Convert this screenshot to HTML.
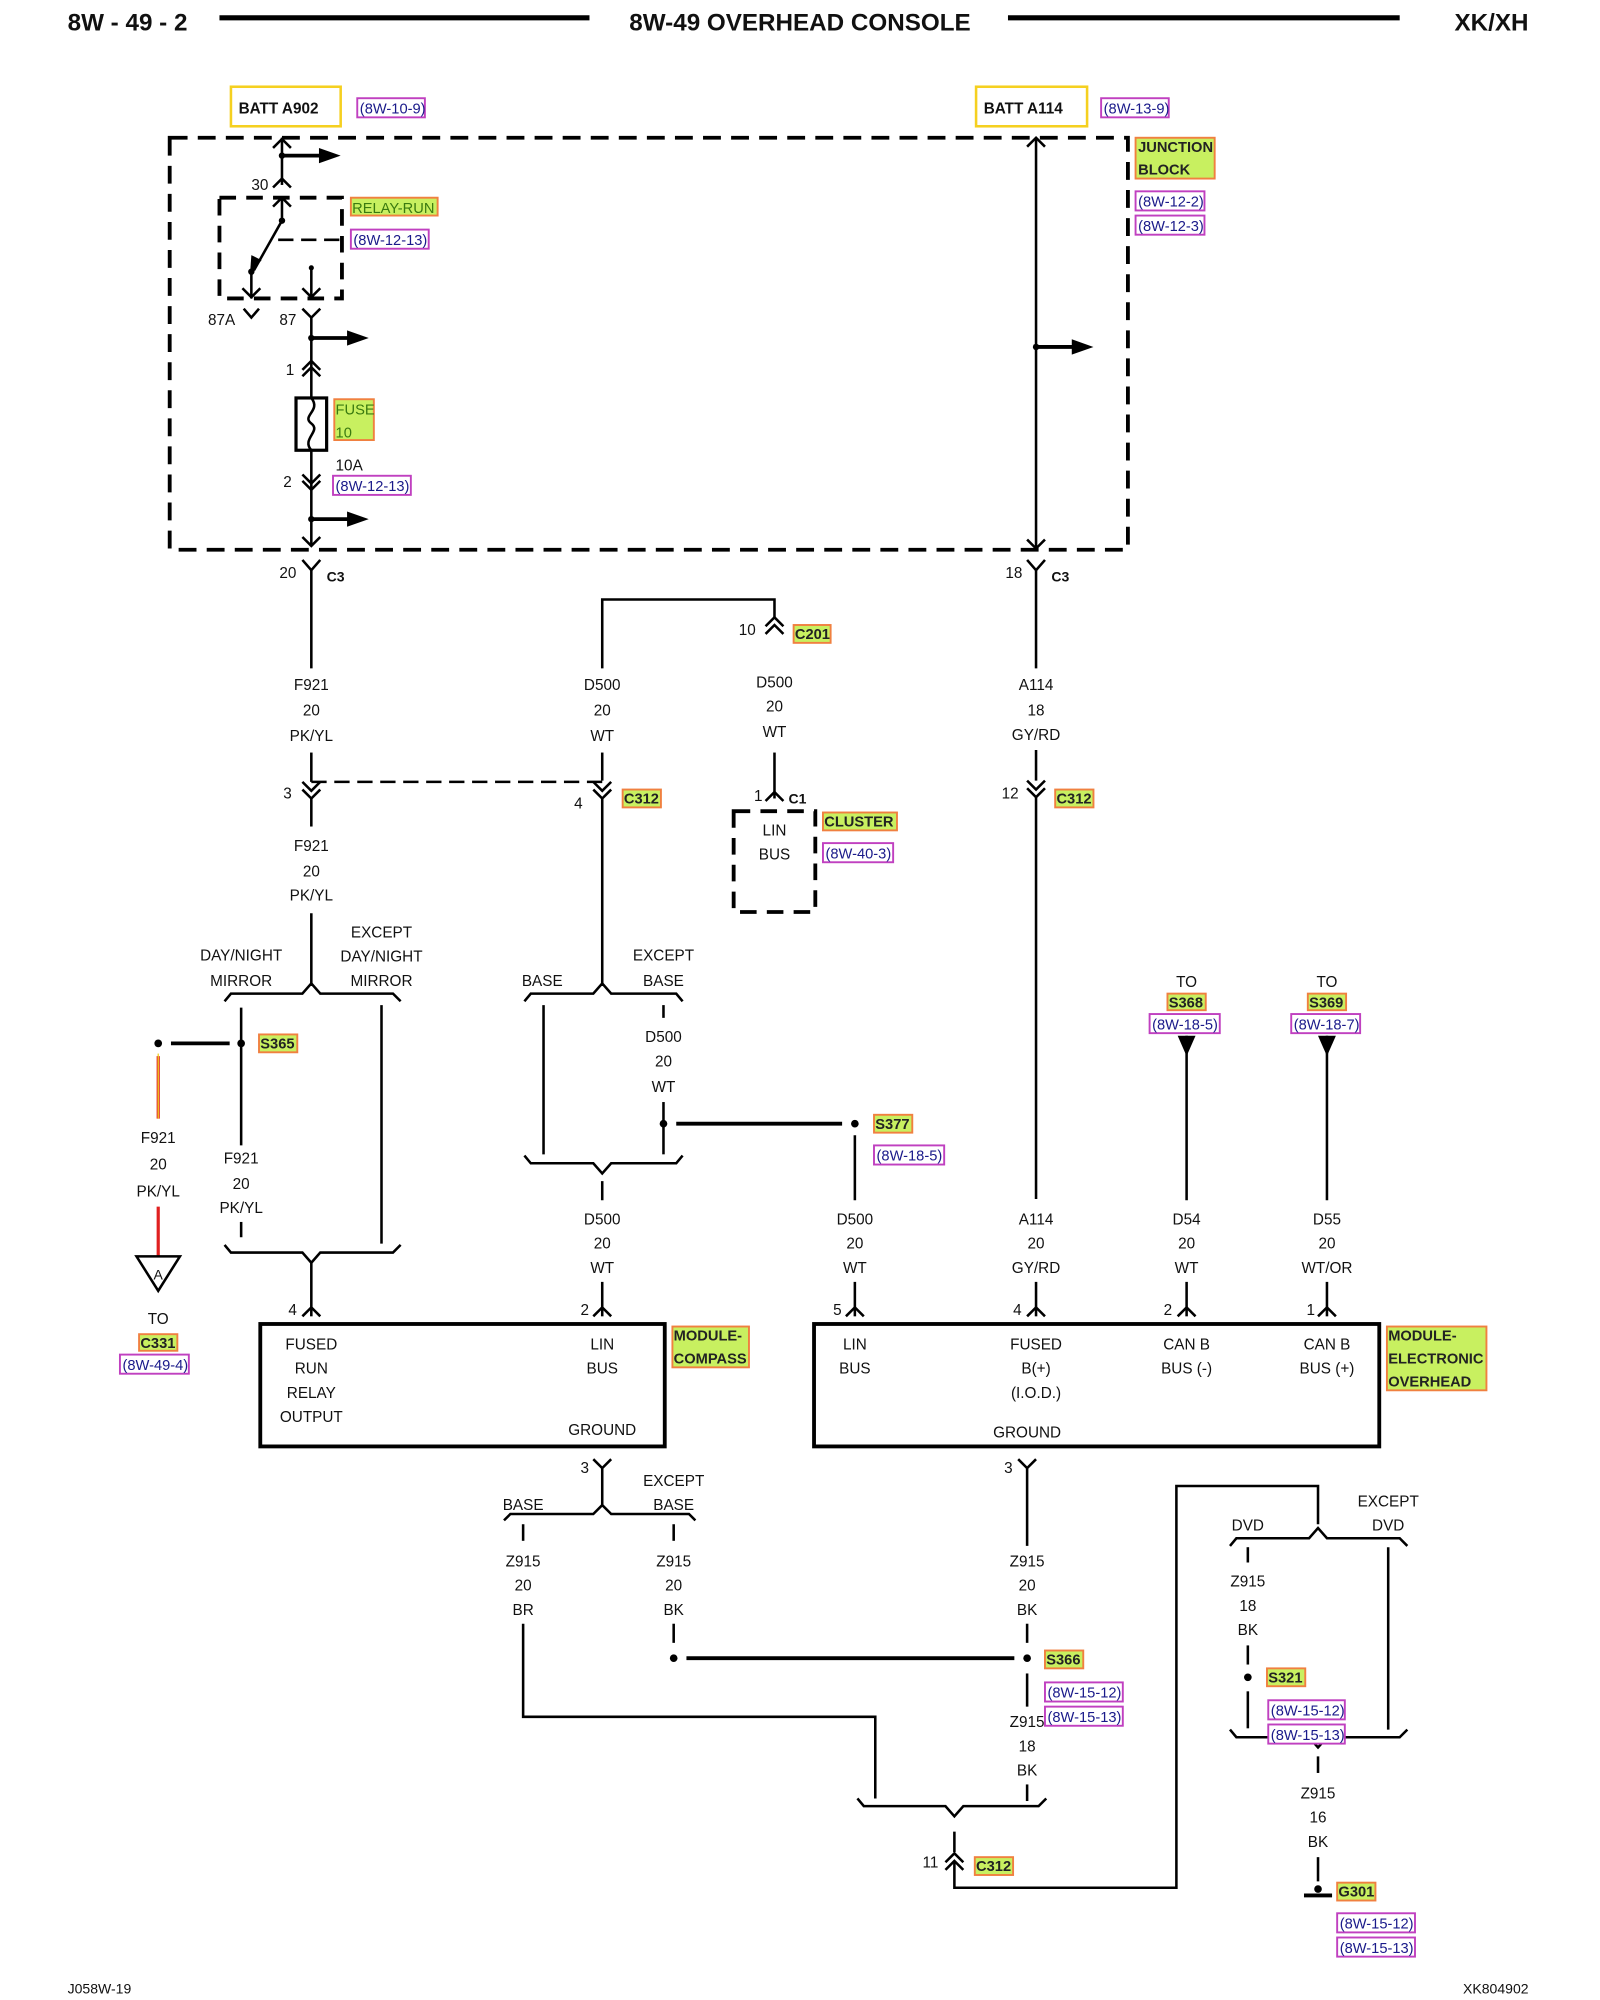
<!DOCTYPE html>
<html><head><meta charset="utf-8"><style>
html,body{margin:0;padding:0;background:#fff}
svg{display:block}
text{font-family:"Liberation Sans",sans-serif;font-size:12px;fill:#111}
.c{text-anchor:middle}
.b{font-weight:bold}
.h{font-size:19px;font-weight:bold}
.r{fill:#1a1a8a;font-size:11.5px}
.l{font-size:11.5px;font-weight:bold;fill:#222}
.w{stroke:#000;stroke-width:2;fill:none}
.k{stroke:#000;stroke-width:3;fill:none}
.rr{fill:#fff;stroke:#c040c0;stroke-width:1.5}
.lr{fill:#c8f060;stroke:#f08040;stroke-width:1.5}
</style></head><body>
<svg width="1600" height="2000" viewBox="0 0 1254 1568" preserveAspectRatio="none" xmlns="http://www.w3.org/2000/svg">
<!-- header -->
<text x="53" y="24" class="h">8W - 49 - 2</text>
<line x1="172" y1="14" x2="462" y2="14" stroke="#000" stroke-width="4"/>
<text x="627" y="24" class="h c">8W-49 OVERHEAD CONSOLE</text>
<line x1="790" y1="14" x2="1097" y2="14" stroke="#000" stroke-width="4"/>
<text x="1198" y="24" class="h" text-anchor="end">XK/XH</text>

<!-- batt boxes -->
<rect x="181" y="68" width="86" height="31" fill="#fff" stroke="#f5d020" stroke-width="2"/>
<text x="187" y="89" class="b">BATT A902</text>
<rect x="280" y="77" width="53" height="15" class="rr"/><text x="282" y="89" class="r">(8W-10-9)</text>
<rect x="765" y="68" width="87" height="31" fill="#fff" stroke="#f5d020" stroke-width="2"/>
<text x="771" y="89" class="b">BATT A114</text>
<rect x="863" y="77" width="53" height="15" class="rr"/><text x="865" y="89" class="r">(8W-13-9)</text>

<!-- junction block dashed -->
<rect x="133" y="108" width="751" height="323" fill="none" stroke="#000" stroke-width="3" stroke-dasharray="14 8"/>
<rect x="890" y="108" width="62" height="32" class="lr"/>
<text x="892" y="119" class="l">JUNCTION</text><text x="892" y="137" class="l">BLOCK</text>
<rect x="890" y="150" width="54" height="15" class="rr"/><text x="892" y="162" class="r">(8W-12-2)</text>
<rect x="890" y="169" width="54" height="15" class="rr"/><text x="892" y="181" class="r">(8W-12-3)</text>

<!-- left relay circuit -->
<line x1="221" y1="108" x2="221" y2="145" class="w"/>
<path d="M214,116 L221,109 L228,116" class="w"/>
<circle cx="221" cy="122" r="2.5"/>
<line x1="221" y1="122" x2="252" y2="122" class="k"/>
<path d="M250,116 L267,122 L250,128 Z"/>
<path d="M214,147 L221,140 L228,147" class="w"/>
<text x="197" y="149">30</text>
<rect x="172" y="155" width="96" height="79" fill="none" stroke="#000" stroke-width="3" stroke-dasharray="13 8"/>
<line x1="221" y1="155" x2="221" y2="173" class="w"/>
<path d="M214,162 L221,155 L228,162" class="w"/>
<circle cx="221" cy="173" r="2.5"/>
<line x1="221" y1="173" x2="199" y2="212" class="w"/>
<path d="M196,214 L197,200 L205,204 Z"/>
<circle cx="197" cy="213" r="2.5"/>
<line x1="197" y1="213" x2="197" y2="234" class="w"/>
<path d="M190,226 L197,233 L204,226" class="w"/>
<line x1="218" y1="188" x2="268" y2="188" stroke="#000" stroke-width="2" stroke-dasharray="12 6"/>
<circle cx="244" cy="210" r="2"/>
<line x1="244" y1="210" x2="244" y2="234" class="w"/>
<path d="M237,226 L244,233 L251,226" class="w"/>
<path d="M191,242 L197,249 L203,242" class="w"/>
<text x="163" y="255">87A</text>
<path d="M237,242 L244,249 L251,242" class="w"/>
<text x="219" y="255">87</text>
<line x1="244" y1="249" x2="244" y2="428" class="w"/>
<circle cx="244" cy="265" r="2.5"/>
<line x1="244" y1="265" x2="274" y2="265" class="k"/>
<path d="M272,259 L289,265 L272,271 Z"/>
<path d="M237,290 L244,283 L251,290 M237,295 L244,288 L251,295" class="w"/>
<text x="224" y="294">1</text>
<rect x="232" y="312" width="24" height="41" fill="#fff" stroke="#000" stroke-width="2.5"/>
<path d="M244,312 C252,322 236,326 244,332 C252,338 236,344 244,353" class="w"/>
<rect x="262" y="313" width="31" height="32" class="lr"/>
<text x="263" y="325" style="font-size:11.5px;fill:#3a7a10">FUSE</text><text x="263" y="343" style="font-size:11.5px;fill:#3a7a10">10</text>
<text x="263" y="369">10A</text>
<path d="M237,372 L244,379 L251,372 M237,377 L244,384 L251,377" class="w"/>
<text x="222" y="382">2</text>
<rect x="261" y="373" width="61" height="15" class="rr"/><text x="263" y="385" class="r">(8W-12-13)</text>
<circle cx="244" cy="407" r="2.5"/>
<line x1="244" y1="407" x2="274" y2="407" class="k"/>
<path d="M272,401 L289,407 L272,413 Z"/>
<path d="M237,421 L244,428 L251,421" class="w"/>
<rect x="275" y="155" width="68" height="14" class="lr"/><text x="276" y="167" style="font-size:11.5px;fill:#3a7a10">RELAY-RUN</text>
<rect x="275" y="180" width="61" height="15" class="rr"/><text x="277" y="192" class="r">(8W-12-13)</text>

<!-- right A114 -->
<line x1="812" y1="108" x2="812" y2="430" class="w"/>
<path d="M805,115 L812,108 L819,115 M805,423 L812,430 L819,423" class="w"/>
<circle cx="812" cy="272" r="2.5"/>
<line x1="812" y1="272" x2="842" y2="272" class="k"/>
<path d="M840,266 L857,272 L840,278 Z"/>

<!-- C3 pins -->
<path d="M237,439 L244,447 L251,439" class="w"/><line x1="244" y1="447" x2="244" y2="524" class="w"/><line x1="244" y1="590" x2="244" y2="613" class="w"/>
<text x="219" y="453">20</text><text x="256" y="456" class="b" style="font-size:11px">C3</text>
<path d="M805,439 L812,447 L819,439" class="w"/><line x1="812" y1="447" x2="812" y2="524" class="w"/><line x1="812" y1="588" x2="812" y2="612" class="w"/>
<text x="788" y="453">18</text><text x="824" y="456" class="b" style="font-size:11px">C3</text>

<text x="244" y="541" class="c">F921</text><text x="244" y="561" class="c">20</text><text x="244" y="581" class="c">PK/YL</text>
<text x="812" y="541" class="c">A114</text><text x="812" y="561" class="c">18</text><text x="812" y="580" class="c">GY/RD</text>

<!-- D500 loop to cluster -->
<path d="M472,524 L472,470 L607,470 L607,484" class="w"/>
<line x1="472" y1="590" x2="472" y2="612" class="w"/>
<path d="M600,491 L607,484 L614,491 M600,497 L607,490 L614,497" class="w"/>
<text x="579" y="498">10</text>
<rect x="622" y="490" width="29" height="14" class="lr"/><text x="623" y="501" class="l">C201</text>
<text x="472" y="541" class="c">D500</text><text x="472" y="561" class="c">20</text><text x="472" y="581" class="c">WT</text>
<text x="607" y="539" class="c">D500</text><text x="607" y="558" class="c">20</text><text x="607" y="578" class="c">WT</text>
<line x1="607" y1="590" x2="607" y2="626" class="w"/>
<path d="M600,628 L607,621 L614,628" class="w"/>
<text x="591" y="628">1</text><text x="618" y="630" class="b" style="font-size:11px">C1</text>
<rect x="575" y="636" width="64" height="79" fill="none" stroke="#000" stroke-width="3" stroke-dasharray="13 8"/>
<text x="607" y="655" class="c">LIN</text><text x="607" y="674" class="c">BUS</text>
<rect x="645" y="637" width="58" height="14" class="lr"/><text x="646" y="648" class="l">CLUSTER</text>
<rect x="645" y="661" width="55" height="15" class="rr"/><text x="647" y="673" class="r">(8W-40-3)</text>

<!-- C312 row -->
<path d="M237,613 L244,620 L251,613 M237,619 L244,626 L251,619" class="w"/><text x="222" y="626">3</text>
<line x1="244" y1="613" x2="472" y2="613" stroke="#000" stroke-width="2" stroke-dasharray="12 6"/>
<path d="M465,613 L472,620 L479,613 M465,619 L472,626 L479,619" class="w"/><text x="450" y="634">4</text>
<rect x="488" y="619" width="30" height="14" class="lr"/><text x="489" y="630" class="l">C312</text>
<path d="M805,612 L812,619 L819,612 M805,618 L812,625 L819,618" class="w"/><text x="785" y="626">12</text>
<rect x="827" y="619" width="30" height="14" class="lr"/><text x="828" y="630" class="l">C312</text>

<line x1="244" y1="626" x2="244" y2="648" class="w"/>
<text x="244" y="667" class="c">F921</text><text x="244" y="687" class="c">20</text><text x="244" y="706" class="c">PK/YL</text>
<line x1="244" y1="716" x2="244" y2="773" class="w"/>
<line x1="472" y1="626" x2="472" y2="773" class="w"/>
<line x1="812" y1="625" x2="812" y2="940" class="w"/>

<!-- left split -->
<text x="189" y="753" class="c">DAY/NIGHT</text><text x="189" y="773" class="c">MIRROR</text>
<text x="299" y="735" class="c">EXCEPT</text><text x="299" y="754" class="c">DAY/NIGHT</text><text x="299" y="773" class="c">MIRROR</text>
<path d="M176,785 L181,779 L237,779 L244,771 L251,779 L308,779 L314,785" class="w"/>
<line x1="189" y1="790" x2="189" y2="898" class="w"/>
<line x1="299" y1="788" x2="299" y2="975" class="w"/>
<circle cx="189" cy="818" r="3"/><circle cx="124" cy="818" r="3"/>
<line x1="134" y1="818" x2="180" y2="818" class="k"/>
<rect x="203" y="811" width="30" height="14" class="lr"/><text x="204" y="822" class="l">S365</text>
<line x1="124" y1="828" x2="124" y2="877" stroke="#e02020" stroke-width="2.5"/>
<line x1="124" y1="826" x2="124" y2="877" stroke="#f0d020" stroke-width="1" />
<text x="124" y="896" class="c">F921</text><text x="124" y="917" class="c">20</text><text x="124" y="938" class="c">PK/YL</text>
<line x1="124" y1="946" x2="124" y2="985" stroke="#e02020" stroke-width="2.5"/>
<path d="M107,985 L141,985 L124,1012 Z" fill="#fff" stroke="#000" stroke-width="2"/>
<text x="124" y="1003" class="c" style="font-size:11px">A</text>
<text x="124" y="1038" class="c">TO</text>
<rect x="109" y="1046" width="30" height="13" class="lr"/><text x="110" y="1057" class="l">C331</text>
<rect x="94" y="1062" width="54" height="15" class="rr"/><text x="96" y="1074" class="r">(8W-49-4)</text>
<text x="189" y="912" class="c">F921</text><text x="189" y="932" class="c">20</text><text x="189" y="951" class="c">PK/YL</text>
<line x1="189" y1="958" x2="189" y2="970" class="w"/>
<path d="M176,976 L181,982 L237,982 L244,990 L251,982 L308,982 L314,976" class="w"/>
<line x1="244" y1="990" x2="244" y2="1032" class="w"/>
<path d="M237,1032 L244,1025 L251,1032" class="w"/><text x="226" y="1031">4</text>

<!-- middle split -->
<text x="425" y="773" class="c">BASE</text>
<text x="520" y="753" class="c">EXCEPT</text><text x="520" y="773" class="c">BASE</text>
<path d="M411,785 L416,779 L465,779 L472,771 L479,779 L530,779 L535,785" class="w"/>
<line x1="426" y1="788" x2="426" y2="905" class="w"/>
<line x1="520" y1="788" x2="520" y2="798" class="w"/>
<text x="520" y="817" class="c">D500</text><text x="520" y="836" class="c">20</text><text x="520" y="856" class="c">WT</text>
<line x1="520" y1="864" x2="520" y2="905" class="w"/>
<circle cx="520" cy="881" r="3"/><circle cx="670" cy="881" r="3"/>
<line x1="530" y1="881" x2="660" y2="881" class="k"/>
<rect x="685" y="874" width="30" height="14" class="lr"/><text x="686" y="885" class="l">S377</text>
<rect x="685" y="898" width="55" height="15" class="rr"/><text x="687" y="910" class="r">(8W-18-5)</text>
<path d="M411,906 L416,912 L465,912 L472,920 L479,912 L530,912 L535,906" class="w"/>
<line x1="472" y1="926" x2="472" y2="941" class="w"/>
<text x="472" y="960" class="c">D500</text><text x="472" y="979" class="c">20</text><text x="472" y="998" class="c">WT</text>
<line x1="472" y1="1005" x2="472" y2="1032" class="w"/>
<path d="M465,1032 L472,1025 L479,1032" class="w"/><text x="455" y="1031">2</text>
<line x1="670" y1="890" x2="670" y2="941" class="w"/>
<text x="670" y="960" class="c">D500</text><text x="670" y="979" class="c">20</text><text x="670" y="998" class="c">WT</text>
<line x1="670" y1="1005" x2="670" y2="1032" class="w"/>
<path d="M663,1032 L670,1025 L677,1032" class="w"/><text x="653" y="1031">5</text>

<text x="812" y="960" class="c">A114</text><text x="812" y="979" class="c">20</text><text x="812" y="998" class="c">GY/RD</text>
<line x1="812" y1="1005" x2="812" y2="1032" class="w"/>
<path d="M805,1032 L812,1025 L819,1032" class="w"/><text x="794" y="1031">4</text>

<text x="930" y="774" class="c">TO</text>
<rect x="915" y="779" width="30" height="13" class="lr"/><text x="916" y="790" class="l">S368</text>
<rect x="901" y="795" width="55" height="15" class="rr"/><text x="903" y="807" class="r">(8W-18-5)</text>
<path d="M923,812 L937,812 L930,828 Z"/>
<line x1="930" y1="812" x2="930" y2="941" class="w"/>
<text x="930" y="960" class="c">D54</text><text x="930" y="979" class="c">20</text><text x="930" y="998" class="c">WT</text>
<line x1="930" y1="1005" x2="930" y2="1032" class="w"/>
<path d="M923,1032 L930,1025 L937,1032" class="w"/><text x="912" y="1031">2</text>

<text x="1040" y="774" class="c">TO</text>
<rect x="1025" y="779" width="30" height="13" class="lr"/><text x="1026" y="790" class="l">S369</text>
<rect x="1012" y="795" width="54" height="15" class="rr"/><text x="1014" y="807" class="r">(8W-18-7)</text>
<path d="M1033,812 L1047,812 L1040,828 Z"/>
<line x1="1040" y1="812" x2="1040" y2="941" class="w"/>
<text x="1040" y="960" class="c">D55</text><text x="1040" y="979" class="c">20</text><text x="1040" y="998" class="c">WT/OR</text>
<line x1="1040" y1="1005" x2="1040" y2="1032" class="w"/>
<path d="M1033,1032 L1040,1025 L1047,1032" class="w"/><text x="1024" y="1031">1</text>

<!-- modules -->
<rect x="204" y="1038" width="317" height="96" fill="none" stroke="#000" stroke-width="3"/>
<text x="244" y="1058" class="c">FUSED</text><text x="244" y="1077" class="c">RUN</text><text x="244" y="1096" class="c">RELAY</text><text x="244" y="1115" class="c">OUTPUT</text>
<text x="472" y="1058" class="c">LIN</text><text x="472" y="1077" class="c">BUS</text>
<text x="472" y="1125" class="c">GROUND</text>
<rect x="527" y="1040" width="60" height="32" class="lr"/>
<text x="528" y="1051" class="l">MODULE-</text><text x="528" y="1069" class="l">COMPASS</text>

<rect x="638" y="1038" width="443" height="96" fill="none" stroke="#000" stroke-width="3"/>
<text x="670" y="1058" class="c">LIN</text><text x="670" y="1077" class="c">BUS</text>
<text x="812" y="1058" class="c">FUSED</text><text x="812" y="1077" class="c">B(+)</text><text x="812" y="1096" class="c">(I.O.D.)</text>
<text x="930" y="1058" class="c">CAN B</text><text x="930" y="1077" class="c">BUS (-)</text>
<text x="1040" y="1058" class="c">CAN B</text><text x="1040" y="1077" class="c">BUS (+)</text>
<text x="805" y="1127" class="c">GROUND</text>
<rect x="1087" y="1040" width="78" height="50" class="lr"/>
<text x="1088" y="1051" class="l">MODULE-</text><text x="1088" y="1069" class="l">ELECTRONIC</text><text x="1088" y="1087" class="l">OVERHEAD</text>

<!-- compass ground -->
<path d="M465,1144 L472,1151 L479,1144" class="w"/><text x="455" y="1155">3</text>
<line x1="472" y1="1151" x2="472" y2="1180" class="w"/>
<text x="410" y="1184" class="c">BASE</text>
<text x="528" y="1165" class="c">EXCEPT</text><text x="528" y="1184" class="c">BASE</text>
<path d="M395,1192 L400,1187 L465,1187 L472,1180 L479,1187 L540,1187 L545,1192" class="w"/>
<line x1="410" y1="1195" x2="410" y2="1208" class="w"/><line x1="528" y1="1195" x2="528" y2="1208" class="w"/>
<text x="410" y="1228" class="c">Z915</text><text x="410" y="1247" class="c">20</text><text x="410" y="1266" class="c">BR</text>
<text x="528" y="1228" class="c">Z915</text><text x="528" y="1247" class="c">20</text><text x="528" y="1266" class="c">BK</text>
<path d="M410,1273 L410,1346 L686,1346 L686,1410" class="w"/>
<line x1="528" y1="1273" x2="528" y2="1288" class="w"/>
<circle cx="528" cy="1300" r="3"/><circle cx="805" cy="1300" r="3"/>
<line x1="538" y1="1300" x2="795" y2="1300" class="k"/>

<!-- EO ground -->
<path d="M798,1144 L805,1151 L812,1144" class="w"/><text x="787" y="1155">3</text>
<line x1="805" y1="1151" x2="805" y2="1212" class="w"/>
<text x="805" y="1228" class="c">Z915</text><text x="805" y="1247" class="c">20</text><text x="805" y="1266" class="c">BK</text>
<line x1="805" y1="1273" x2="805" y2="1288" class="w"/>
<line x1="805" y1="1312" x2="805" y2="1338" class="w"/>
<rect x="819" y="1294" width="30" height="14" class="lr"/><text x="820" y="1305" class="l">S366</text>
<rect x="819" y="1319" width="61" height="15" class="rr"/><text x="821" y="1331" class="r">(8W-15-12)</text>
<rect x="819" y="1338" width="61" height="15" class="rr"/><text x="821" y="1350" class="r">(8W-15-13)</text>
<text x="805" y="1354" class="c">Z915</text><text x="805" y="1373" class="c">18</text><text x="805" y="1392" class="c">BK</text>
<line x1="805" y1="1399" x2="805" y2="1412" class="w"/>
<path d="M672,1410 L677,1416 L741,1416 L748,1424 L755,1416 L814,1416 L820,1410" class="w"/>
<line x1="748" y1="1436" x2="748" y2="1452" class="w"/>
<path d="M741,1460 L748,1453 L755,1460 M741,1466 L748,1459 L755,1466" class="w"/>
<text x="723" y="1464">11</text>
<rect x="764" y="1456" width="30" height="14" class="lr"/><text x="765" y="1467" class="l">C312</text>
<path d="M748,1460 L748,1480 L922,1480 L922,1165 L1033,1165 L1033,1195" class="w"/>
<text x="978" y="1200" class="c">DVD</text>
<text x="1088" y="1181" class="c">EXCEPT</text><text x="1088" y="1200" class="c">DVD</text>
<path d="M964,1212 L969,1206 L1026,1206 L1033,1198 L1040,1206 L1097,1206 L1103,1212" class="w"/>
<line x1="978" y1="1213" x2="978" y2="1225" class="w"/>
<text x="978" y="1244" class="c">Z915</text><text x="978" y="1263" class="c">18</text><text x="978" y="1282" class="c">BK</text>
<line x1="978" y1="1290" x2="978" y2="1305" class="w"/>
<circle cx="978" cy="1315" r="3"/>
<line x1="978" y1="1326" x2="978" y2="1355" class="w"/>
<rect x="993" y="1308" width="30" height="14" class="lr"/><text x="994" y="1319" class="l">S321</text>
<line x1="1088" y1="1213" x2="1088" y2="1356" class="w"/>
<path d="M964,1356 L969,1362 L1026,1362 L1033,1370 L1040,1362 L1097,1362 L1103,1356" class="w"/>
<rect x="994" y="1333" width="60" height="15" class="rr"/><text x="996" y="1345" class="r">(8W-15-12)</text>
<rect x="994" y="1352" width="60" height="15" class="rr"/><text x="996" y="1364" class="r">(8W-15-13)</text>
<line x1="1033" y1="1377" x2="1033" y2="1390" class="w"/>
<text x="1033" y="1410" class="c">Z915</text><text x="1033" y="1429" class="c">16</text><text x="1033" y="1448" class="c">BK</text>
<line x1="1033" y1="1456" x2="1033" y2="1475" class="w"/>
<circle cx="1033" cy="1481" r="3"/>
<line x1="1022" y1="1486" x2="1044" y2="1486" class="k"/>
<rect x="1048" y="1476" width="30" height="14" class="lr"/><text x="1049" y="1487" class="l">G301</text>
<rect x="1048" y="1500" width="61" height="15" class="rr"/><text x="1050" y="1512" class="r">(8W-15-12)</text>
<rect x="1048" y="1519" width="61" height="15" class="rr"/><text x="1050" y="1531" class="r">(8W-15-13)</text>

<!-- footer -->
<text x="53" y="1563" style="font-size:11px">J058W-19</text>
<text x="1198" y="1563" text-anchor="end" style="font-size:11px">XK804902</text>
</svg>
</body></html>
